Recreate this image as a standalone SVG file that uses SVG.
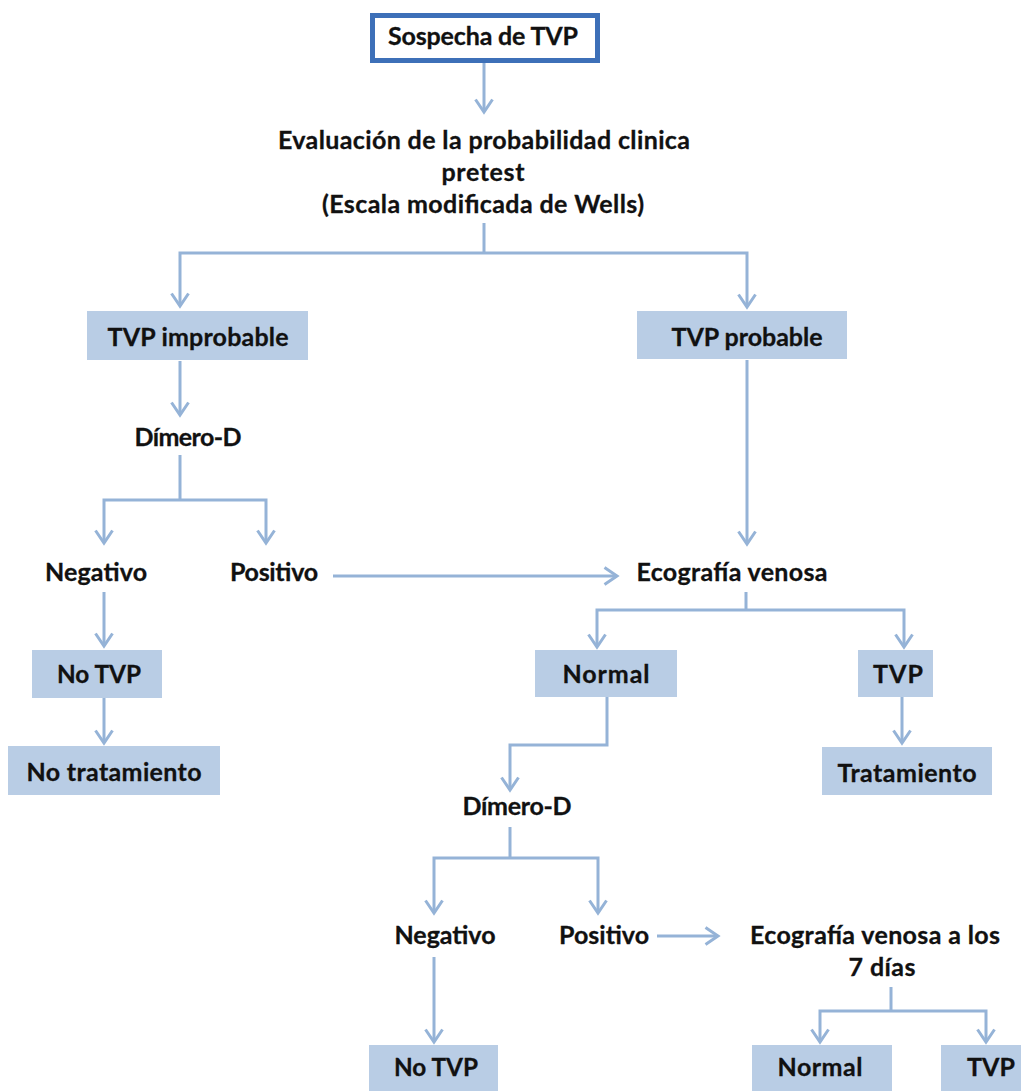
<svg xmlns="http://www.w3.org/2000/svg" width="1028" height="1091" viewBox="0 0 1028 1091">
  <defs>
    <style>
      .box { fill: #b9cde5; }
      .start { fill: #ffffff; stroke: #3d70b8; stroke-width: 5; }
      .lbl { font-family: Lato, "Liberation Sans", sans-serif; font-weight: 700; font-size: 25px; fill: #111111; text-anchor: middle; stroke: #111111; stroke-width: 0.3; }
      .wire { fill: none; stroke: #95b3d7; stroke-width: 3; }
      .arrow { marker-end: url(#chev); }
      .both { marker-start: url(#chev); marker-end: url(#chev); }
    </style>
    <marker id="chev" markerUnits="userSpaceOnUse" markerWidth="20" markerHeight="20" refX="14" refY="10" orient="auto-start-reverse">
      <path d="M1.5,1.5 L14,10 L1.5,18.5" fill="none" stroke="#95b3d7" stroke-width="3"/>
    </marker>
  </defs>

  <rect width="1028" height="1091" fill="#ffffff"/>

  <!-- connectors -->
  <g id="connectors">
    <path class="wire arrow" d="M484 63 V112"/>
    <path class="wire" d="M484 223 V253"/>
    <path class="wire both" d="M180 306 V253 H747 V307"/>
    <path class="wire arrow" d="M180 361 V415"/>
    <path class="wire" d="M180 455 V500"/>
    <path class="wire both" d="M104 543 V500 H266 V543"/>
    <path class="wire arrow" d="M104 592 V646"/>
    <path class="wire arrow" d="M104 698 V743"/>
    <path class="wire arrow" d="M333 576 H617"/>
    <path class="wire arrow" d="M747 360 V544"/>
    <path class="wire" d="M746 592 V610"/>
    <path class="wire both" d="M597 647 V610 H904 V647"/>
    <path class="wire arrow" d="M607 697 V745 H510 V790"/>
    <path class="wire arrow" d="M902 697 V743"/>
    <path class="wire" d="M510 827 V858"/>
    <path class="wire both" d="M434 913 V858 H598 V913"/>
    <path class="wire arrow" d="M434 957 V1042"/>
    <path class="wire arrow" d="M657 936 H718"/>
    <path class="wire" d="M891 987 V1011"/>
    <path class="wire both" d="M820 1042 V1011 H986 V1042"/>
  </g>

  <g id="sospecha">
    <rect class="start" x="372.5" y="15.5" width="225" height="45"/>
    <text class="lbl" x="483" y="45" textLength="190">Sospecha de TVP</text>
  </g>

  <g id="evaluacion">
    <text class="lbl" x="484" y="149" textLength="412">Evaluación de la probabilidad clinica</text>
    <text class="lbl" x="483" y="181" textLength="83">pretest</text>
    <text class="lbl" x="483" y="213" textLength="322">(Escala modificada de Wells)</text>
  </g>

  <g id="tvp-improbable">
    <rect class="box" x="87" y="311" width="221" height="49"/>
    <text class="lbl" x="198" y="346" textLength="181">TVP improbable</text>
  </g>

  <g id="tvp-probable">
    <rect class="box" x="637" y="311" width="210" height="48"/>
    <text class="lbl" x="747" y="346" textLength="151">TVP probable</text>
  </g>

  <g id="dimero-1">
    <text class="lbl" x="188" y="446" textLength="107">Dímero-D</text>
  </g>

  <g id="negativo-1">
    <text class="lbl" x="96" y="581" textLength="102">Negativo</text>
  </g>

  <g id="positivo-1">
    <text class="lbl" x="274" y="581" textLength="88">Positivo</text>
  </g>

  <g id="no-tvp-1">
    <rect class="box" x="32" y="650" width="130" height="48"/>
    <text class="lbl" x="99" y="683" textLength="84" lengthAdjust="spacingAndGlyphs">No TVP</text>
  </g>

  <g id="no-tratamiento">
    <rect class="box" x="8" y="746" width="212" height="49"/>
    <text class="lbl" x="114" y="781" textLength="175">No tratamiento</text>
  </g>

  <g id="ecografia">
    <text class="lbl" x="732" y="581" textLength="191">Ecografía venosa</text>
  </g>

  <g id="normal-1">
    <rect class="box" x="535" y="650" width="142" height="47"/>
    <text class="lbl" x="606" y="683" textLength="87">Normal</text>
  </g>

  <g id="tvp-1">
    <rect class="box" x="858" y="650" width="75" height="47"/>
    <text class="lbl" x="898" y="683" textLength="50">TVP</text>
  </g>

  <g id="tratamiento">
    <rect class="box" x="822" y="747" width="170" height="48"/>
    <text class="lbl" x="907" y="782" textLength="139">Tratamiento</text>
  </g>

  <g id="dimero-2">
    <text class="lbl" x="517" y="815" textLength="109">Dímero-D</text>
  </g>

  <g id="negativo-2">
    <text class="lbl" x="445" y="944" textLength="101">Negativo</text>
  </g>

  <g id="positivo-2">
    <text class="lbl" x="604" y="944" textLength="90">Positivo</text>
  </g>

  <g id="ecografia-7">
    <text class="lbl" x="875" y="944" textLength="250">Ecografía venosa a los</text>
    <text class="lbl" x="882" y="976" textLength="67">7 días</text>
  </g>

  <g id="no-tvp-2">
    <rect class="box" x="369" y="1045" width="129" height="46"/>
    <text class="lbl" x="436" y="1076" textLength="84" lengthAdjust="spacingAndGlyphs">No TVP</text>
  </g>

  <g id="normal-2">
    <rect class="box" x="752" y="1045" width="140" height="46"/>
    <text class="lbl" x="820" y="1076" textLength="85">Normal</text>
  </g>

  <g id="tvp-2">
    <rect class="box" x="941" y="1045" width="80" height="46"/>
    <text class="lbl" x="991" y="1076" textLength="48">TVP</text>
  </g>
</svg>
